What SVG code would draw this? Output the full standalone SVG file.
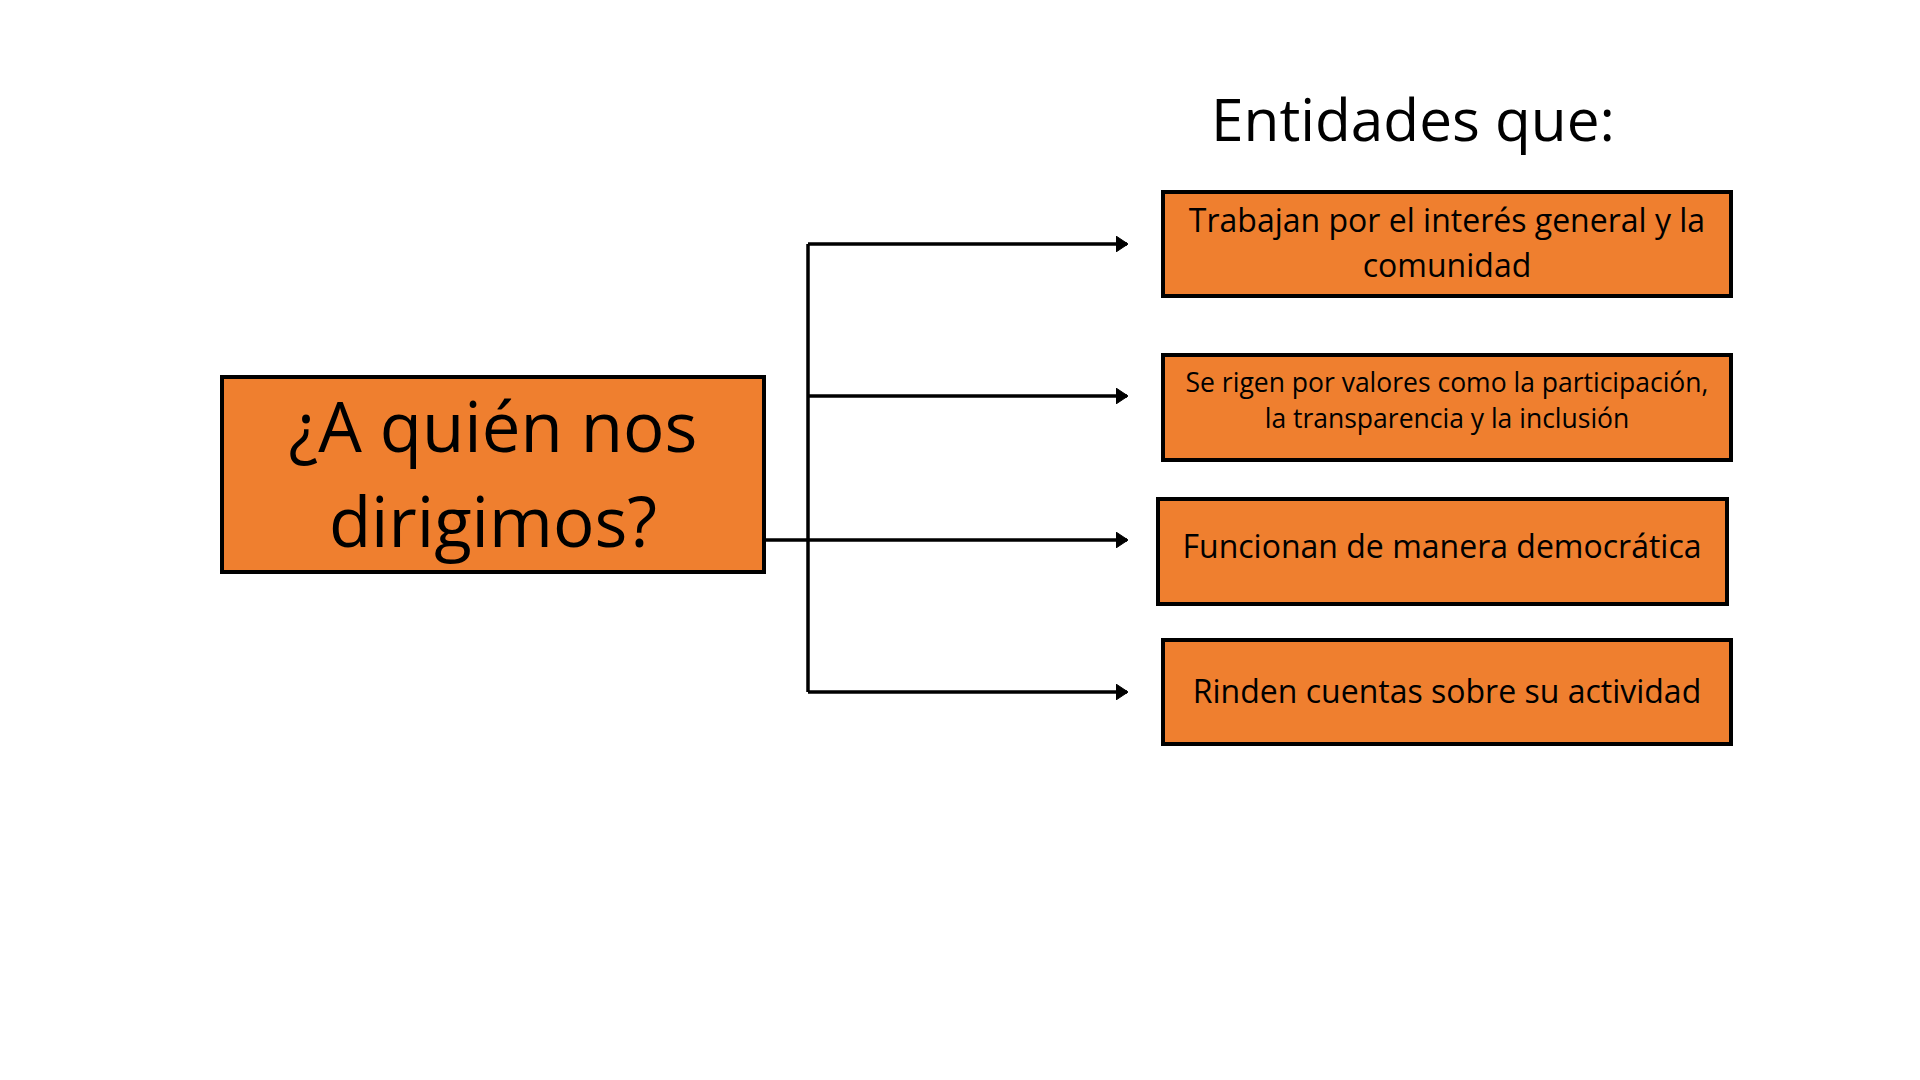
<svg xmlns="http://www.w3.org/2000/svg" width="1920" height="1080" viewBox="0 0 1920 1080">
<defs>
<style>
.box{fill:#EF7F2F;stroke:#000;stroke-width:4}
.t{font-family:"Open Sans","Noto Sans",sans-serif;fill:#000;text-anchor:middle}
.c{fill:none;stroke:#000;stroke-width:3.5}
</style>
<marker id="arr" viewBox="0 0 12 16" refX="11" refY="8" markerWidth="12" markerHeight="16" markerUnits="userSpaceOnUse" orient="auto">
<path d="M0,0 L12,8 L0,16 Z" fill="#000" stroke="#000" stroke-width="1" stroke-linejoin="round"/>
</marker>
</defs>
<rect width="1920" height="1080" fill="#fff"/>
<text id="title" class="t" x="1413" y="141" font-size="58.5">Entidades que:</text>
<g id="connectors">
<line class="c" x1="808" y1="244" x2="808" y2="692"/>
<line class="c" x1="764" y1="540" x2="808" y2="540"/>
<line class="c" x1="808" y1="244" x2="1127" y2="244" marker-end="url(#arr)"/>
<line class="c" x1="808" y1="396" x2="1127" y2="396" marker-end="url(#arr)"/>
<line class="c" x1="808" y1="540" x2="1127" y2="540" marker-end="url(#arr)"/>
<line class="c" x1="808" y1="692" x2="1127" y2="692" marker-end="url(#arr)"/>
</g>
<g id="root">
<rect class="box" x="222" y="377" width="542" height="195"/>
<text class="t" x="493" y="452" font-size="69">¿A quién nos</text>
<text class="t" x="493" y="547" font-size="69">dirigimos?</text>
</g>
<g id="n1">
<rect class="box" x="1163" y="192" width="568" height="104"/>
<text class="t" x="1447" y="232" font-size="32">Trabajan por el interés general y la</text>
<text class="t" x="1447" y="277" font-size="32">comunidad</text>
</g>
<g id="n2">
<rect class="box" x="1163" y="355" width="568" height="105"/>
<text class="t" x="1447" y="392" font-size="26.5">Se rigen por valores como la participación,</text>
<text class="t" x="1447" y="428" font-size="26.5">la transparencia y la inclusión</text>
</g>
<g id="n3">
<rect class="box" x="1158" y="499" width="569" height="105"/>
<text class="t" x="1442" y="558" font-size="32">Funcionan de manera democrática</text>
</g>
<g id="n4">
<rect class="box" x="1163" y="640" width="568" height="104"/>
<text class="t" x="1447" y="703" font-size="32">Rinden cuentas sobre su actividad</text>
</g>
</svg>
